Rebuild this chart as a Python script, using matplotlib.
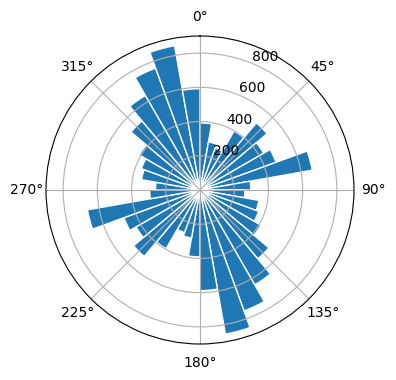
import numpy as np
import matplotlib
matplotlib.use("Agg")
import matplotlib.pyplot as plt

# bin start angles in degrees (10 degree bins, clockwise from north)
bin_starts = list(range(0, 360, 10))
counts = [392, 285, 262, 398, 512, 430, 473, 666, 297,
          262, 349, 365, 411, 525, 640, 752, 855, 588,
          391, 285, 265, 396, 507, 432, 473, 668, 294,
          260, 347, 365, 410, 527, 638, 758, 856, 592]

theta = np.deg2rad(bin_starts)
width = np.deg2rad(10)

fig = plt.figure(figsize=(3.96, 3.8), dpi=100)
ax = fig.add_axes([46 / 396, 36 / 380, 308 / 396, 308 / 380], projection="polar")
ax.set_theta_zero_location("N")
ax.set_theta_direction(-1)
ax.bar(theta, counts, width=width, align="edge", color="C0", edgecolor="white", linewidth=1)
ax.set_ylim(0, 900)
ax.set_rticks([200, 400, 600, 800])
ax.grid(True)

fig.savefig("out.png", dpi=100)
